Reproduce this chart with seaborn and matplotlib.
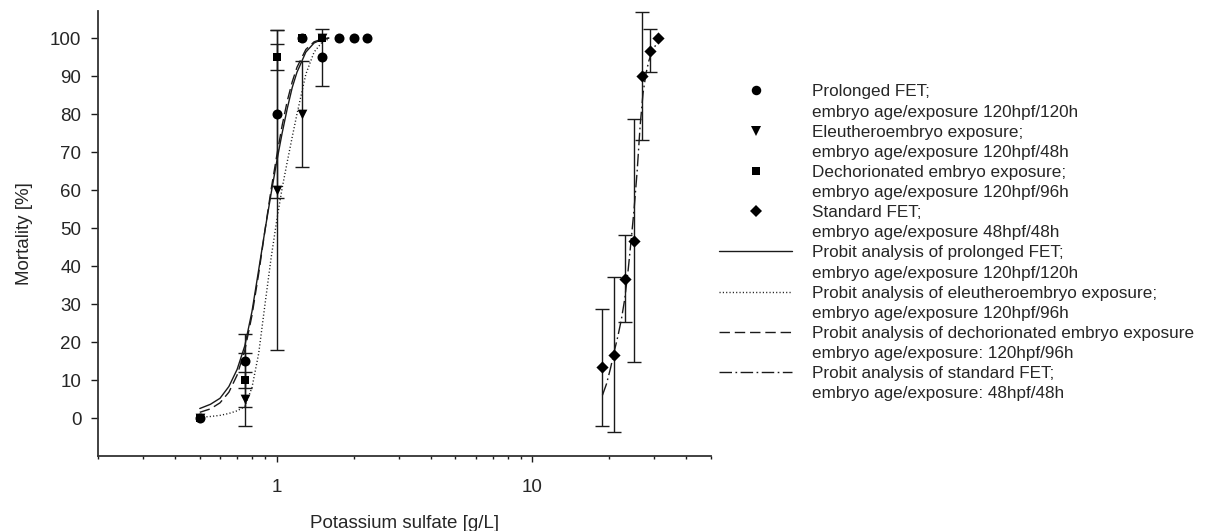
import matplotlib
matplotlib.use("Agg")
import matplotlib.pyplot as plt
import seaborn as sns
import pandas as pd
from matplotlib.lines import Line2D
from matplotlib.ticker import FixedLocator, NullFormatter

sns.set_style("ticks")
plt.rcParams['font.family'] = ['Liberation Sans', 'DejaVu Sans']

# measured points (concentration g/L, mortality %, error)
conc_prolonged = [0.5, 0.75, 1.0, 1.25, 1.5, 1.75, 2.0, 2.25]
mort_prolonged = [0, 15, 80, 100, 95, 100, 100, 100]
err_prolonged = [0, 7, 22, 0, 7.5, 0, 0, 0]

conc_eleuthero = [0.5, 0.75, 1.0, 1.25, 1.5]
mort_eleuthero = [0, 5, 60, 80, 100]
err_eleuthero = [0, 7, 42, 14, 0]

conc_dechor = [0.5, 0.75, 1.0, 1.25, 1.5]
mort_dechor = [0, 10, 95, 100, 100]
err_dechor = [0, 7, 3.5, 0, 0]

conc_standard = [18.8, 20.9, 23.0, 25.0, 26.8, 28.8, 30.9]
mort_standard = [13.3, 16.7, 36.7, 46.7, 90, 96.7, 100]
err_standard = [15.3, 20.5, 11.5, 32, 16.8, 5.7, 0]

# probit curves
curve_x_left = [0.5, 0.55, 0.6, 0.65, 0.7, 0.75, 0.8, 0.85, 0.9, 0.95, 1.0,
                1.05, 1.1, 1.15, 1.2, 1.3, 1.4, 1.5, 1.6]
probit_prolonged = [2.5, 3.6, 5.2, 8.3, 12.8, 19, 28, 39, 49.5, 59, 67.5,
                    75, 81.5, 87, 91, 96.3, 98.7, 99.6, 100]
probit_eleuthero = [0.2, 0.4, 0.7, 1.2, 1.9, 3, 8, 17, 30, 42, 52,
                    60.5, 67.5, 74, 80, 90.5, 96.3, 98.8, 99.8]
probit_dechor = [1.5, 2.4, 4.0, 6.8, 11.3, 17.8, 27, 38, 49.5, 60, 69,
                 77, 83.5, 88.5, 92.3, 97, 99, 99.7, 100]
curve_x_standard = [18.8, 19.5, 20.2, 20.9, 21.6, 22.3, 23.0, 23.7, 24.4, 25.0,
                    25.7, 26.4, 27.1, 27.8, 28.5, 29.2, 30.0, 30.9]
probit_standard = [6, 9, 13, 17.5, 21.5, 26, 31.5, 39, 47.5, 55,
                   65, 77, 85.5, 90.5, 93.8, 96, 97.6, 98.8]

labels_points = [
    ("Prolonged FET;", "embryo age/exposure 120hpf/120h"),
    ("Eleutheroembryo exposure;", "embryo age/exposure 120hpf/48h"),
    ("Dechorionated embryo exposure;", "embryo age/exposure 120hpf/96h"),
    ("Standard FET;", "embryo age/exposure 48hpf/48h"),
]
labels_lines = [
    ("Probit analysis of prolonged FET;", "embryo age/exposure 120hpf/120h"),
    ("Probit analysis of eleutheroembryo exposure;", "embryo age/exposure 120hpf/96h"),
    ("Probit analysis of dechorionated embryo exposure", "embryo age/exposure: 120hpf/96h"),
    ("Probit analysis of standard FET;", "embryo age/exposure: 48hpf/48h"),
]

ink = "#1a1a1a"
fig = plt.figure(figsize=(12.06, 5.31), dpi=100)
ax = fig.add_axes([0.0813, 0.1412, 0.5083, 0.8373])
ax.set_xscale("log")

dot = (0, (0.8, 1.6))
dash = (0, (7.5, 3.5))
dashdot = (0, (9, 2.5, 1.2, 2.5))
curves = [
    (curve_x_left, probit_prolonged, "-"),
    (curve_x_left, probit_eleuthero, dot),
    (curve_x_left, probit_dechor, dash),
    (curve_x_standard, probit_standard, dashdot),
]
for cx, cy, ls in curves:
    sns.lineplot(x=cx, y=cy, ax=ax, color=ink, lw=1.0, linestyle=ls,
                 errorbar=None, zorder=2)

series = [
    (conc_prolonged, mort_prolonged, err_prolonged, "o", 7.2),
    (conc_eleuthero, mort_eleuthero, err_eleuthero, "v", 7.0),
    (conc_dechor, mort_dechor, err_dechor, "s", 6.0),
    (conc_standard, mort_standard, err_standard, "D", 6.2),
]
for cx, cy, ce, mk, ms in series:
    df = pd.DataFrame({"conc": cx, "mort": cy, "err": ce})
    eb = df[df["err"] > 0]
    ax.errorbar(eb["conc"], eb["mort"], yerr=eb["err"], fmt="none", ecolor=ink,
                elinewidth=1.0, capsize=4.7, capthick=1.0, zorder=1)
    sns.scatterplot(data=df, x="conc", y="mort", marker=mk, s=ms ** 2,
                    color="black", edgecolor="black", linewidth=0, ax=ax, zorder=3)

ax.set_xlim(0.2, 50)
ax.set_ylim(-10, 107)
ax.xaxis.set_major_locator(FixedLocator([1, 10]))
ax.xaxis.set_minor_locator(FixedLocator([0.2, 0.3, 0.4, 0.5, 0.6, 0.7, 0.8, 0.9,
                                         2, 3, 4, 5, 6, 7, 8, 9, 20, 30, 40, 50]))
ax.xaxis.set_minor_formatter(NullFormatter())
ax.set_xticklabels(["1", "10"])
ax.set_yticks(range(0, 101, 10))
ax.tick_params(axis="both", which="major", labelsize=13.5, color=ink, width=1.0)
ax.tick_params(axis="y", length=5, pad=7)
ax.tick_params(axis="x", which="major", length=4.5, pad=12)
ax.tick_params(axis="x", which="minor", length=2.5, width=1.0, color=ink)
for side in ["top", "right"]:
    ax.spines[side].set_visible(False)
for side in ["left", "bottom"]:
    ax.spines[side].set_color("#333333")
    ax.spines[side].set_linewidth(1.3)
ax.set_xlabel("Potassium sulfate [g/L]", fontsize=13.5, labelpad=14)
ax.set_ylabel("Mortality [%]", fontsize=13.5, labelpad=12)

# legend: one row per text line, the symbol sits on the first line
blank = Line2D([], [], ls="none", marker=None)
handles, labels = [], []
for (_, _, _, mk, ms), (l1, l2) in zip(series, labels_points):
    handles += [Line2D([], [], ls="none", marker=mk, ms=ms * 0.95, color="black",
                       markeredgewidth=0), blank]
    labels += [l1, l2]
for (_, _, ls), (l1, l2) in zip(curves, labels_lines):
    handles += [Line2D([], [], color=ink, lw=1.0, ls=ls), blank]
    labels += [l1, l2]
fig.legend(handles, labels, loc="upper left", bbox_to_anchor=(0.596, 0.841),
           frameon=False, fontsize=12.3, handlelength=4.3, handletextpad=1.15,
           labelspacing=0.3, borderpad=0, borderaxespad=0)

fig.savefig("out.png", dpi=100)
